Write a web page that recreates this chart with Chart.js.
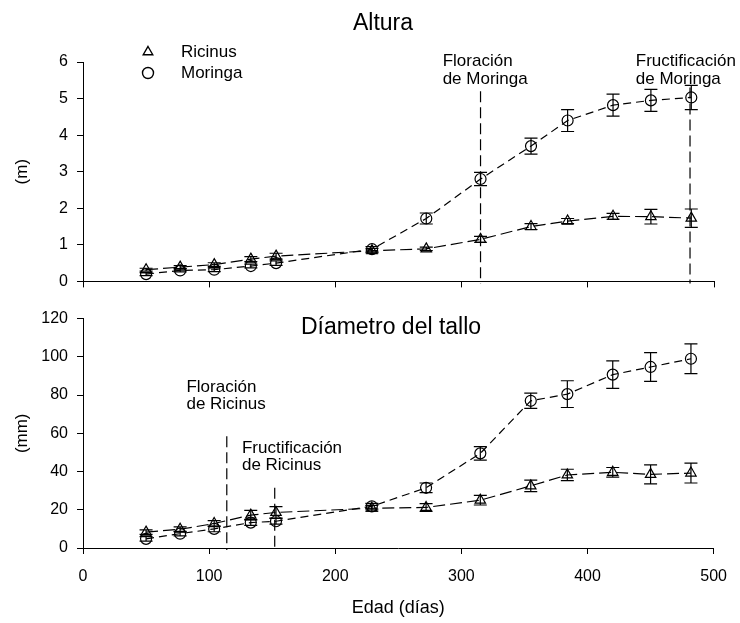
<!DOCTYPE html>
<html>
<head>
<meta charset="utf-8">
<script src="https://cdn.jsdelivr.net/npm/chart.js@4.4.1/dist/chart.umd.min.js"></script>
<style>
  body { margin: 0; background: #fff; }
  #wrap { position: relative; width: 740px; height: 623px; }
  #wrap canvas { position: absolute; left: 0; }
</style>
</head>
<body>
<div id="wrap">
  <canvas id="altura" width="740" height="300" style="top:0"></canvas>
  <canvas id="diametro" width="740" height="323" style="top:300px"></canvas>
</div>
<script>
// edad de la planta en dias
const dias = [50, 77, 104, 133, 153, 229, 272, 315, 355, 384, 420, 450, 482];

// altura (m)
const alturaRicinus    = [0.32, 0.39, 0.46, 0.61, 0.69, 0.84, 0.89, 1.15, 1.50, 1.65, 1.78, 1.77, 1.73];
const alturaRicinusErr = [0.04, 0.04, 0.05, 0.07, 0.08, 0.06, 0.05, 0.08, 0.08, 0.07, 0.08, 0.20, 0.25];
const alturaMoringa    = [0.20, 0.30, 0.32, 0.42, 0.50, 0.88, 1.72, 2.80, 3.70, 4.40, 4.82, 4.95, 5.03];
const alturaMoringaErr = [0.04, 0.04, 0.05, 0.05, 0.06, 0.07, 0.15, 0.18, 0.22, 0.30, 0.30, 0.30, 0.33];

// diametro del tallo (mm)
const diamRicinus    = [8.3, 9.8, 12.8, 17.2, 18.6, 20.8, 21.2, 25.0, 32.5, 38.2, 39.6, 38.5, 39.2];
const diamRicinusErr = [1.2, 1.3, 1.5, 2.5, 3.0, 1.5, 2.0, 2.5, 3.0, 3.0, 2.5, 5.0, 5.2];
const diamMoringa    = [4.8, 7.5, 10.0, 13.3, 14.0, 21.8, 31.5, 49.5, 77.0, 80.5, 90.7, 94.7, 99.0];
const diamMoringaErr = [1.2, 1.2, 1.5, 1.5, 1.5, 1.5, 2.5, 3.5, 4.0, 7.0, 7.2, 7.5, 7.8];

// eventos fenologicos: [dia, tope de la linea, texto, x del texto, y de cada renglon]
const eventosAltura = [
  [315, 5.2, ['Floración', 'de Moringa'], 285, [6.02, 5.52]],
  [481, 5.3, ['Fructificación', 'de Moringa'], 438, [6.02, 5.52]]
];
const eventosDiam = [
  [114, 58.5, ['Floración', 'de Ricinus'], 82, [84, 75]],
  [152, 31.5, ['Fructificación', 'de Ricinus'], 126, [52, 43]]
];

const FONT = "'Liberation Sans', Arial, sans-serif";

function serie(label, valores, errores, estilo, dash, radio) {
  return {
    label: label,
    data: dias.map((d, i) => ({x: d, y: valores[i]})),
    errores: errores,
    borderColor: '#000',
    borderWidth: 1.2,
    borderDash: dash,
    pointStyle: estilo,
    pointRadius: radio,
    pointBorderColor: '#000',
    pointBackgroundColor: 'rgba(0,0,0,0)',
    pointBorderWidth: 1.2,
    fill: false,
    tension: 0
  };
}

// barras de error con tapas
const barrasError = {
  id: 'barrasError',
  afterDatasetsDraw(chart) {
    const ctx = chart.ctx;
    const xs = chart.scales.x, ys = chart.scales.y;
    ctx.save();
    ctx.strokeStyle = '#000';
    ctx.lineWidth = 1.2;
    chart.data.datasets.forEach(ds => {
      ds.data.forEach((p, i) => {
        const e = ds.errores[i];
        const x = xs.getPixelForValue(p.x);
        const y1 = ys.getPixelForValue(p.y + e);
        const y2 = ys.getPixelForValue(p.y - e);
        ctx.beginPath();
        ctx.moveTo(x, y1); ctx.lineTo(x, y2);
        ctx.moveTo(x - 6.5, y1); ctx.lineTo(x + 6.5, y1);
        ctx.moveTo(x - 6.5, y2); ctx.lineTo(x + 6.5, y2);
        ctx.stroke();
      });
    });
    ctx.restore();
  }
};

// lineas verticales de floracion / fructificacion, textos, titulo y leyenda
const anotaciones = {
  id: 'anotaciones',
  afterDraw(chart, args, opts) {
    const ctx = chart.ctx;
    const xs = chart.scales.x, ys = chart.scales.y;
    ctx.save();
    ctx.strokeStyle = '#000';
    ctx.lineWidth = 1.2;
    ctx.setLineDash([11, 5]);
    opts.eventos.forEach(ev => {
      const x = xs.getPixelForValue(ev[0]);
      ctx.beginPath();
      ctx.moveTo(x, ys.getPixelForValue(ev[1]));
      ctx.lineTo(x, chart.chartArea.bottom + 2);
      ctx.stroke();
    });
    ctx.setLineDash([]);
    ctx.fillStyle = '#000';
    ctx.textBaseline = 'middle';
    ctx.textAlign = 'left';
    ctx.font = '17px ' + FONT;
    opts.eventos.forEach(ev => {
      const x = xs.getPixelForValue(ev[3]);
      ev[2].forEach((t, k) => ctx.fillText(t, x, ys.getPixelForValue(ev[4][k])));
    });
    ctx.textAlign = 'center';
    ctx.font = '23px ' + FONT;
    ctx.fillText(opts.titulo, opts.tituloX, opts.tituloY);
    if (opts.leyenda) {
      ctx.font = '17px ' + FONT;
      ctx.textAlign = 'left';
      chart.data.datasets.forEach((ds, k) => {
        const y = 52 + k * 21;
        ctx.fillStyle = 'rgba(0,0,0,0)';
        ctx.strokeStyle = '#000';
        ctx.lineWidth = 1.4;
        Chart.helpers.drawPoint(ctx, {pointStyle: ds.pointStyle, radius: 5.5, borderWidth: 1.4}, 148, y);
        ctx.fillStyle = '#000';
        ctx.fillText(ds.label, 181, y);
      });
    }
    ctx.restore();
  }
};

function ejeY(min, max, paso, titulo) {
  return {
    type: 'linear', min: min, max: max,
    ticks: {stepSize: paso, color: '#000', font: {size: 16, family: FONT}, padding: 9},
    grid: {drawOnChartArea: false, tickLength: 6, color: '#000'},
    border: {color: '#000', width: 1},
    title: {display: true, text: titulo, color: '#000', font: {size: 17, family: FONT}, padding: {top: 12, bottom: 0}},
    afterFit(s) { s.width = 83; }
  };
}

Chart.defaults.animation = false;

new Chart(document.getElementById('altura'), {
  type: 'line',
  data: {
    datasets: [
      serie('Ricinus', alturaRicinus, alturaRicinusErr, 'triangle', [12, 5], 6),
      serie('Moringa', alturaMoringa, alturaMoringaErr, 'circle', [8, 5], 5.5)
    ]
  },
  options: {
    responsive: false,
    layout: {padding: {top: 62, right: 26, left: 0, bottom: 0}},
    plugins: {
      legend: {display: false},
      tooltip: {enabled: false},
      anotaciones: {eventos: eventosAltura, titulo: 'Altura', tituloX: 383, tituloY: 24, leyenda: true}
    },
    scales: {
      x: {
        type: 'linear', min: 0, max: 500,
        ticks: {stepSize: 100, display: false},
        grid: {drawOnChartArea: false, tickLength: 6, color: '#000'},
        border: {color: '#000', width: 1},
        afterFit(s) { s.height = 9; }
      },
      y: ejeY(0, 6, 1, '(m)')
    }
  },
  plugins: [barrasError, anotaciones]
});

new Chart(document.getElementById('diametro'), {
  type: 'line',
  data: {
    datasets: [
      serie('Ricinus', diamRicinus, diamRicinusErr, 'triangle', [12, 5], 6),
      serie('Moringa', diamMoringa, diamMoringaErr, 'circle', [8, 5], 5.5)
    ]
  },
  options: {
    responsive: false,
    layout: {padding: {top: 16, right: 26, left: 0, bottom: 0}},
    plugins: {
      legend: {display: false},
      tooltip: {enabled: false},
      anotaciones: {eventos: eventosDiam, titulo: 'Díametro del tallo', tituloX: 391, tituloY: 28, leyenda: false}
    },
    scales: {
      x: {
        type: 'linear', min: 0, max: 500,
        ticks: {stepSize: 100, color: '#000', font: {size: 16, family: FONT}, padding: 13},
        grid: {drawOnChartArea: false, tickLength: 6, color: '#000'},
        border: {color: '#000', width: 1},
        title: {display: true, text: 'Edad (días)', color: '#000', font: {size: 18, family: FONT}, padding: {top: 4, bottom: 4}},
        afterFit(s) { s.height = 75; }
      },
      y: ejeY(0, 120, 20, '(mm)')
    }
  },
  plugins: [barrasError, anotaciones]
});
</script>
</body>
</html>
